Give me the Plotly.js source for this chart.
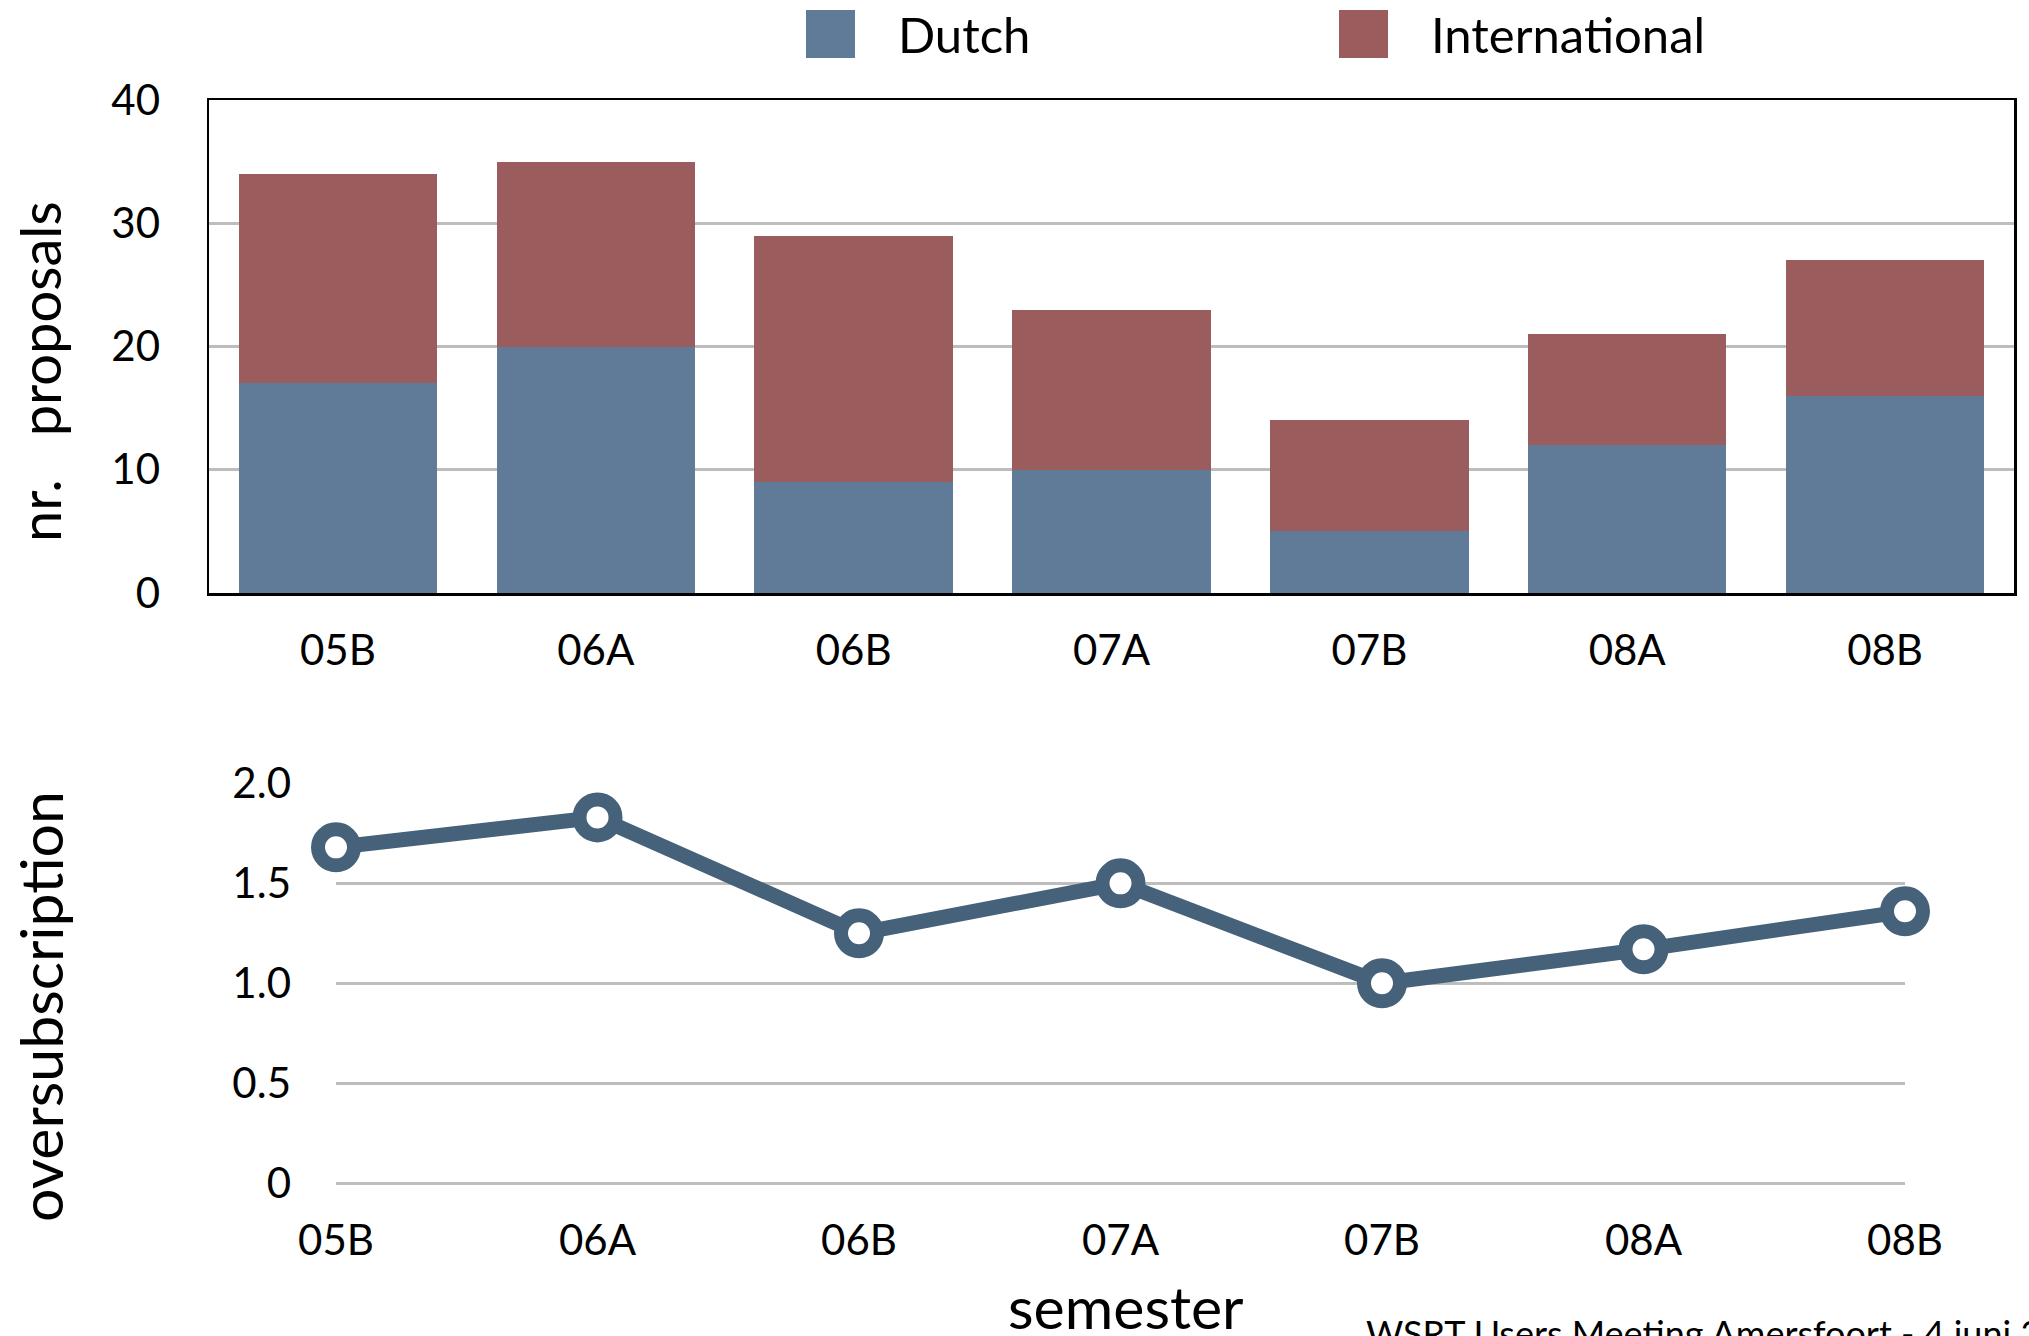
<!DOCTYPE html>
<html>
<head>
<meta charset="utf-8">
<script src="https://cdn.plot.ly/plotly-3.0.1.min.js"></script>
<style>
html,body{margin:0;padding:0;background:#fff;}
#chart{width:2029px;height:1336px;}
</style>
</head>
<body>
<div id="chart"></div>
<script>
// ---- data ----
const semesters = ['05B','06A','06B','07A','07B','08A','08B'];
const dutch = [17, 20, 9, 10, 5, 12, 16];
const international = [17, 15, 20, 13, 9, 9, 11];
const oversubscription = [1.68, 1.83, 1.25, 1.50, 1.00, 1.17, 1.36];
const seriesNames = ['Dutch', 'International'];
const topYTicks = [0, 10, 20, 30, 40];
const bottomYTickVals = [0, 0.5, 1.0, 1.5, 2.0];
const bottomYTickText = ['0', '0.5', '1.0', '1.5', '2.0'];
const titles = {top: 'nr.\u00a0\u00a0\u00a0proposals', bottom: 'oversubscription', x: 'semester'};
const footer = 'WSRT Users Meeting Amersfoort - 4 juni 2008';

// ---- styles ----
const W = 2029, H = 1336;
const blue = '#607b98', red = '#9b5c5e', lineBlue = '#46617a';
const FONT = 'Lato, "Open Sans", sans-serif';
const px = v => v / W;
const py = v => 1 - v / H;

const traces = [
  {type: 'bar', x: semesters, y: dutch, name: seriesNames[0], marker: {color: blue},
   xaxis: 'x', yaxis: 'y', hoverinfo: 'none'},
  {type: 'bar', x: semesters, y: international, name: seriesNames[1], marker: {color: red},
   xaxis: 'x', yaxis: 'y', hoverinfo: 'none'},
  {type: 'scatter', mode: 'lines+markers', x: semesters, y: oversubscription,
   xaxis: 'x2', yaxis: 'y2', cliponaxis: false, hoverinfo: 'none',
   line: {color: lineBlue, width: 15},
   marker: {symbol: 'circle', size: 36, color: '#ffffff', line: {color: lineBlue, width: 14}}}
];

const tickFont = {family: FONT, size: 42, color: '#000'};
const layout = {
  width: W, height: H, autosize: false,
  margin: {l: 0, r: 0, t: 0, b: 0, pad: 0},
  paper_bgcolor: '#fff', plot_bgcolor: '#fff',
  showlegend: false, barmode: 'stack', bargap: 0.23,
  font: {family: FONT, color: '#000'},
  xaxis: {
    domain: [px(209), px(2014)], anchor: 'y', type: 'category',
    categoryorder: 'array', categoryarray: semesters, range: [-0.5, 6.5],
    showgrid: false, zeroline: false, showline: true, mirror: true,
    linecolor: '#000', linewidth: 2.5, ticks: '', ticklabelstandoff: 19,
    tickfont: tickFont, fixedrange: true
  },
  yaxis: {
    domain: [py(593), py(100)], anchor: 'x', range: [0, 40],
    tickvals: topYTicks, showgrid: true, gridcolor: '#bdbdbd', gridwidth: 3,
    zeroline: false, showline: true, mirror: true, linecolor: '#000', linewidth: 2.5,
    ticks: '', ticklabelstandoff: 38, tickfont: tickFont, fixedrange: true
  },
  xaxis2: {
    domain: [px(336), px(1905)], anchor: 'y2', type: 'category',
    categoryorder: 'array', categoryarray: semesters, range: [0, 6],
    showgrid: false, zeroline: false, showline: false, ticks: '',
    ticklabelstandoff: 28, tickfont: tickFont, fixedrange: true
  },
  yaxis2: {
    domain: [py(1183.6), py(783)], anchor: 'x2', range: [-0.002, 2.002],
    tickvals: bottomYTickVals, ticktext: bottomYTickText,
    showgrid: true, gridcolor: '#bdbdbd', gridwidth: 3,
    zeroline: true, zerolinecolor: '#bdbdbd', zerolinewidth: 3,
    showline: false, ticks: '', ticklabelstandoff: 44, tickfont: tickFont, fixedrange: true
  },
  shapes: [
    {type: 'rect', xref: 'paper', yref: 'paper', x0: px(806), x1: px(855), y0: py(58), y1: py(10),
     fillcolor: blue, line: {width: 0}},
    {type: 'rect', xref: 'paper', yref: 'paper', x0: px(1339), x1: px(1388), y0: py(58), y1: py(10),
     fillcolor: red, line: {width: 0}}
  ],
  annotations: [
    {xref: 'paper', yref: 'paper', x: px(896), y: py(34), xanchor: 'left', yanchor: 'middle',
     text: seriesNames[0], showarrow: false, font: {family: FONT, size: 49, color: '#000'}},
    {xref: 'paper', yref: 'paper', x: px(1429), y: py(34), xanchor: 'left', yanchor: 'middle',
     text: seriesNames[1], showarrow: false, font: {family: FONT, size: 49, color: '#000'}},
    {xref: 'paper', yref: 'paper', x: px(40), y: py(372), xanchor: 'center', yanchor: 'middle',
     textangle: -90, text: titles.top, showarrow: false, font: {family: FONT, size: 56, color: '#000'}},
    {xref: 'paper', yref: 'paper', x: px(40), y: py(1007), xanchor: 'center', yanchor: 'middle',
     textangle: -90, text: titles.bottom, showarrow: false, font: {family: FONT, size: 59, color: '#000'}},
    {xref: 'paper', yref: 'paper', x: px(1126), y: py(1306), xanchor: 'center', yanchor: 'middle',
     text: titles.x, showarrow: false, font: {family: FONT, size: 59, color: '#000'}},
    {xref: 'paper', yref: 'paper', x: px(1364), y: py(1333), xanchor: 'left', yanchor: 'middle',
     text: footer, showarrow: false, font: {family: FONT, size: 36, color: '#000'}}
  ]
};

Plotly.newPlot('chart', traces, layout, {displayModeBar: false, staticPlot: true});
</script>
</body>
</html>
